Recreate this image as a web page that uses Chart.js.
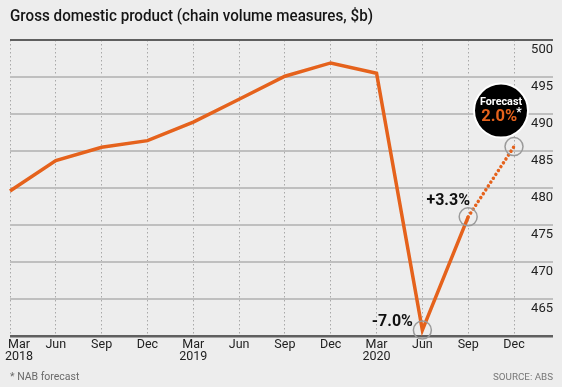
<!DOCTYPE html>
<html>
<head>
<meta charset="utf-8">
<script src="https://cdn.jsdelivr.net/npm/chart.js@4/dist/chart.umd.min.js"></script>
<style>
  html, body { margin: 0; padding: 0; background: #ededed; }
  #wrap { position: relative; width: 562px; height: 387px; overflow: hidden; }
  #gdp-chart { position: absolute; left: 0; top: 0; }
  #title { position: absolute; left: 10px; top: 6px; font: 500 16.5px Roboto, sans-serif; line-height: 20px;
           color: #151515; white-space: nowrap; transform-origin: 0 0; }
  .foot { position: absolute; top: 370px; font: 10.5px Roboto, sans-serif; line-height: 14px; color: #6a6a6a; }
</style>
</head>
<body>
<div id="wrap">
  <canvas id="gdp-chart" width="562" height="387"></canvas>
  <div id="title">Gross domestic product (chain volume measures, $b)</div>
  <div class="foot" style="left:10px">* NAB forecast</div>
  <div class="foot" style="right:9px; font-size:9.8px; color:#777">SOURCE: ABS</div>
</div>
<script>
// --- data ---
const quarters = [['Mar', '2018'], 'Jun', 'Sep', 'Dec', ['Mar', '2019'], 'Jun', 'Sep', 'Dec', ['Mar', '2020'], 'Jun', 'Sep', 'Dec'];
const gdp = [479.6, 483.7, 485.5, 486.4, 488.9, 492.0, 495.1, 496.9, 495.5, 460.8, 476.1, 485.6];
const yMin = 460;
const yMax = 500;
const yStep = 5;
const ringPoints = [9, 10, 11];
const callouts = [{ i: 10, text: '+3.3%' }, { i: 9, text: '-7.0%' }];
const forecastIdx = 11;
const forecastText = ['Forecast', '2.0%', '*'];

const FONT = 'Roboto, sans-serif';
const ORANGE = '#e5621c';

// title is a bit condensed in the original
const titleEl = document.getElementById('title');
titleEl.style.transform = 'scaleX(' + (363 / titleEl.getBoundingClientRect().width) + ')';

// annotations: rings, % labels, forecast bubble
const annotate = {
    id: 'annotate',
    beforeDraw(chart) {
        // nudge first x label right like the original
        const sx = chart.scales.x;
        const items = sx.getLabelItems();
        if (items.length) items[0].options.translation[0] = sx.getPixelForTick(0) + 9;
    },
    afterDatasetsDraw(chart) {
        const { ctx, scales: { x, y } } = chart;
        ctx.save();
        // grey rings
        ctx.strokeStyle = '#9a9a9a';
        ctx.lineWidth = 1.5;
        ringPoints.forEach(i => {
            ctx.beginPath();
            ctx.arc(x.getPixelForValue(i), y.getPixelForValue(gdp[i]), 9, 0, Math.PI * 2);
            ctx.stroke();
        });
        // % labels
        ctx.fillStyle = '#111';
        ctx.font = 'bold 16px ' + FONT;
        ctx.textBaseline = 'middle';
        ctx.textAlign = 'center';
        callouts.forEach(c => {
            const px = x.getPixelForValue(c.i);
            const py = y.getPixelForValue(gdp[c.i]);
            if (c.i === 10) ctx.fillText(c.text, px - 20, py - 16);
            else ctx.fillText(c.text, px - 30, py - 8);
        });
        // forecast bubble
        const fx = x.getPixelForValue(forecastIdx) - 13;
        const fy = y.getPixelForValue(gdp[forecastIdx]) - 36;
        ctx.beginPath();
        ctx.arc(fx, fy, 27, 0, Math.PI * 2);
        ctx.fillStyle = '#000';
        ctx.fill();
        ctx.strokeStyle = '#fff';
        ctx.lineWidth = 2;
        ctx.stroke();
        ctx.fillStyle = '#fff';
        ctx.font = 'bold 10.8px ' + FONT;
        ctx.fillText(forecastText[0], fx, fy - 8.5);
        ctx.font = 'bold 16.5px ' + FONT;
        const w1 = ctx.measureText(forecastText[1]).width;
        ctx.font = 'bold 12px ' + FONT;
        const w2 = ctx.measureText(forecastText[2]).width;
        const left = fx - (w1 + w2) / 2 + 1;
        ctx.textAlign = 'left';
        ctx.font = 'bold 16.5px ' + FONT;
        ctx.fillStyle = ORANGE;
        ctx.fillText(forecastText[1], left, fy + 6);
        ctx.font = 'bold 12px ' + FONT;
        ctx.fillStyle = '#fff';
        ctx.fillText(forecastText[2], left + w1 - 1, fy + 2.5);
        ctx.restore();
    }
};

const ctx = document.getElementById('gdp-chart').getContext('2d');
new Chart(ctx, {
    type: 'line',
    data: {
        labels: quarters,
        datasets: [{
            data: gdp,
            borderColor: ORANGE,
            borderWidth: 3.5,
            pointRadius: 0,
            tension: 0,
            segment: {
                borderDash: c => c.p1DataIndex === forecastIdx ? [0.01, 4.6] : undefined,
                borderCapStyle: c => c.p1DataIndex === forecastIdx ? 'round' : 'butt'
            }
        }]
    },
    options: {
        responsive: false,
        animation: false,
        layout: { padding: { left: 10, right: 9, top: 40, bottom: 21 } },
        plugins: {
            legend: { display: false },
            tooltip: { enabled: false },
            title: { display: false }
        },
        scales: {
            x: {
                afterFit: s => { s.paddingLeft = 0; s.paddingRight = 0; s.height = 30; },
                grid: { color: '#a8a8a8', lineWidth: 1, drawTicks: false },
                border: { display: false, dash: [1.5, 2.5] },
                ticks: {
                    color: '#222',
                    font: { family: FONT, size: 12.5, lineHeight: 0.95 },
                    padding: 3,
                    maxRotation: 0,
                    autoSkip: false
                }
            },
            y: {
                position: 'right',
                min: yMin,
                max: yMax,
                afterFit: s => { s.width = 39; },
                border: { display: false },
                grid: {
                    drawTicks: true,
                    tickLength: 39,
                    color: c => (c.tick && (c.tick.value === yMax || c.tick.value === yMin)) ? '#5f5f5f' : '#bfbfbf',
                    lineWidth: c => (c.tick && c.tick.value === yMin) ? 2.5 : 2
                },
                ticks: {
                    stepSize: yStep,
                    color: '#222',
                    crossAlign: 'far',
                    labelOffset: 10,
                    font: { family: FONT, size: 13 },
                    callback: v => v === yMin ? '' : v
                }
            }
        }
    },
    plugins: [annotate]
});
</script>
</body>
</html>
